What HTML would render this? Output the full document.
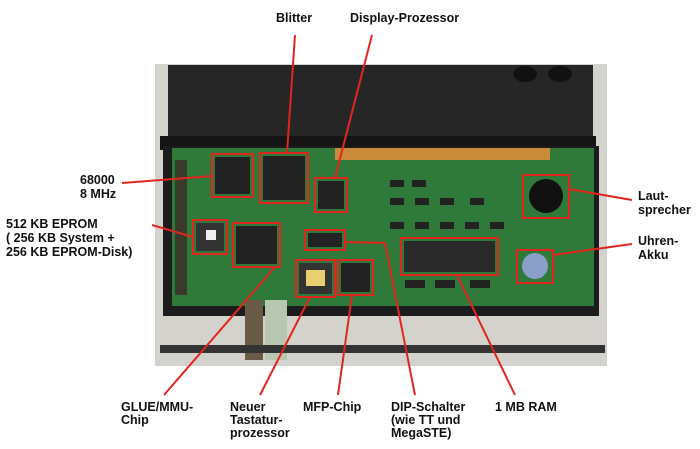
<!DOCTYPE html>
<html><head><meta charset="utf-8"><style>
html,body{margin:0;padding:0;background:#fff;}
svg{display:block}
text{font-family:"Liberation Sans",Arial,sans-serif;font-weight:bold;font-size:12.5px;fill:#111}
</style></head><body>
<svg width="700" height="449" viewBox="0 0 700 449" xmlns="http://www.w3.org/2000/svg">
<rect width="700" height="449" fill="#fff"/>
<!-- photo background -->
<rect x="155" y="64" width="452" height="302" fill="#d4d2cc"/>
<!-- lid -->
<rect x="168" y="65" width="425" height="75" fill="#262626"/>
<ellipse cx="525" cy="74" rx="12" ry="8" fill="#111"/>
<ellipse cx="560" cy="74" rx="12" ry="8" fill="#111"/>
<rect x="160" y="136" width="436" height="14" fill="#151515"/>
<!-- base frame -->
<rect x="163" y="146" width="436" height="170" fill="#1c1c1c"/>
<!-- PCB -->
<rect x="172" y="148" width="422" height="158" fill="#2f7a3a"/>
<rect x="335" y="148" width="215" height="12" fill="#c98a3a"/>
<rect x="175" y="160" width="12" height="135" fill="#3a3a2a"/>
<!-- chips -->
<rect x="215" y="157" width="35" height="37" fill="#222"/>
<rect x="263" y="156" width="42" height="44" fill="#222"/>
<rect x="318" y="181" width="26" height="28" fill="#222"/>
<rect x="196" y="223" width="28" height="28" fill="#333"/>
<rect x="206" y="230" width="10" height="10" fill="#eee"/>
<rect x="236" y="226" width="41" height="38" fill="#222"/>
<rect x="308" y="233" width="34" height="14" fill="#222"/>
<rect x="299" y="263" width="33" height="31" fill="#333"/>
<rect x="306" y="270" width="19" height="16" fill="#e8d070"/>
<rect x="341" y="263" width="29" height="29" fill="#222"/>
<rect x="404" y="241" width="91" height="31" fill="#2a2a2a"/>
<circle cx="546" cy="196" r="17" fill="#111"/>
<circle cx="535" cy="266" r="13" fill="#8aa0c8"/>
<g fill="#222">
<rect x="390" y="180" width="14" height="7"/><rect x="412" y="180" width="14" height="7"/><rect x="390" y="198" width="14" height="7"/><rect x="415" y="198" width="14" height="7"/><rect x="440" y="198" width="14" height="7"/><rect x="470" y="198" width="14" height="7"/><rect x="390" y="222" width="14" height="7"/><rect x="415" y="222" width="14" height="7"/><rect x="440" y="222" width="14" height="7"/><rect x="465" y="222" width="14" height="7"/><rect x="490" y="222" width="14" height="7"/><rect x="405" y="280" width="20" height="8"/><rect x="435" y="280" width="20" height="8"/><rect x="470" y="280" width="20" height="8"/>
</g>
<!-- bottom bezel -->
<rect x="245" y="300" width="18" height="60" fill="#6a5a48"/>
<rect x="265" y="300" width="22" height="60" fill="#b8c8b0"/>
<rect x="160" y="345" width="445" height="8" fill="#333"/>
<!-- red boxes -->
<g fill="none" stroke="#e0261e" stroke-width="2">
<rect x="212" y="154" width="41" height="43"/>
<rect x="260" y="153" width="48" height="50"/>
<rect x="315" y="178" width="32" height="34"/>
<rect x="193" y="220" width="34" height="34"/>
<rect x="233" y="223" width="47" height="44"/>
<rect x="305" y="230" width="40" height="20"/>
<rect x="296" y="260" width="39" height="37"/>
<rect x="338" y="260" width="35" height="35"/>
<rect x="401" y="238" width="97" height="37"/>
<rect x="523" y="175" width="46" height="43"/>
<rect x="517" y="250" width="36" height="33"/>
</g>
<!-- leader lines -->
<g fill="none" stroke="#e0261e" stroke-width="2">
<line x1="295" y1="35" x2="287" y2="153"/>
<line x1="372" y1="35" x2="335" y2="178"/>
<line x1="122" y1="183" x2="212" y2="176"/>
<line x1="152" y1="225" x2="193" y2="237"/>
<line x1="569" y1="189" x2="632" y2="200"/>
<line x1="553" y1="255" x2="632" y2="244"/>
<line x1="164" y1="395" x2="275" y2="267"/>
<line x1="260" y1="395" x2="310" y2="297"/>
<line x1="338" y1="395" x2="352" y2="295"/>
<polyline points="345,242 385,243 415,395"/>
<line x1="457" y1="275" x2="515" y2="395"/>
</g>
<!-- labels -->
<text x="276" y="22">Blitter</text>
<text x="350" y="22">Display-Prozessor</text>
<text x="80" y="184">68000</text>
<text x="80" y="198">8 MHz</text>
<text x="6" y="228">512 KB EPROM</text>
<text x="6" y="242">( 256 KB System +</text>
<text x="6" y="256">256 KB EPROM-Disk)</text>
<text x="638" y="200">Laut-</text>
<text x="638" y="214">sprecher</text>
<text x="638" y="245">Uhren-</text>
<text x="638" y="259">Akku</text>
<text x="121" y="411">GLUE/MMU-</text>
<text x="121" y="424">Chip</text>
<text x="230" y="411">Neuer</text>
<text x="230" y="424">Tastatur-</text>
<text x="230" y="437">prozessor</text>
<text x="303" y="411">MFP-Chip</text>
<text x="391" y="411">DIP-Schalter</text>
<text x="391" y="424">(wie TT und</text>
<text x="391" y="437">MegaSTE)</text>
<text x="495" y="411">1 MB RAM</text>
</svg>
</body></html>
